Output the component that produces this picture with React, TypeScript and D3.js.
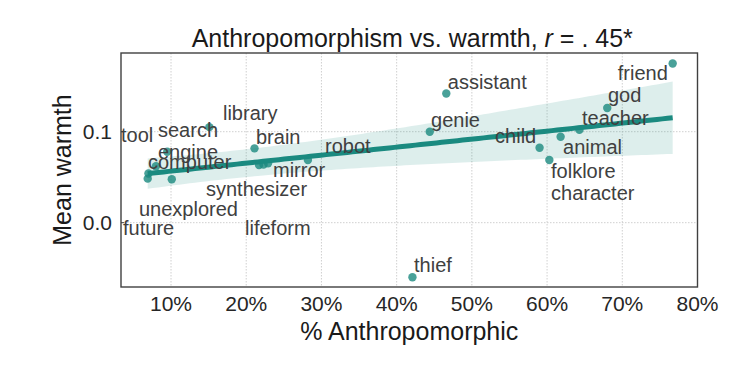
import * as d3 from "d3";

// concepts, % rated anthropomorphic, mean warmth
const terms = [
  "tool", "unexplored", "future", "search engine", "computer", "library",
  "brain", "synthesizer", "mirror", "lifeform", "robot", "thief", "genie",
  "assistant", "child", "folklore character", "animal", "teacher", "god", "friend",
];
const anthro = [
  6.9, 10.1, 7.0, 9.5, 8.0, 15.1, 21.1, 21.7, 22.9, 22.3, 28.2, 42.1, 44.4,
  46.6, 59.0, 60.3, 61.8, 64.3, 68.0, 76.7,
];
const warmth = [
  0.0484, 0.0477, 0.054, 0.078, 0.062, 0.105, 0.0817, 0.0634, 0.0653, 0.064,
  0.0689, -0.06, 0.1, 0.142, 0.0824, 0.0689, 0.0945, 0.102, 0.126, 0.175,
];
const xTicks = [10, 20, 30, 40, 50, 60, 70, 80];
const yTicks = [0.0, 0.1];

// where the (adjusted) text labels ended up, in data units
const labelPos: Record<string, [number, number]> = {
  tool: [3.35, 0.0964],
  unexplored: [5.74, 0.0151],
  future: [3.62, -0.0058],
  "search engine": [8.27, 0.1019],
  computer: [6.94, 0.0667],
  library: [16.91, 0.1205],
  brain: [21.3, 0.0942],
  synthesizer: [14.65, 0.037],
  mirror: [23.56, 0.0579],
  lifeform: [19.84, -0.0058],
  robot: [30.48, 0.0843],
  thief: [42.31, -0.0464],
  genie: [44.57, 0.1129],
  assistant: [46.8, 0.1546],
  child: [53.09, 0.0953],
  "folklore character": [60.53, 0.0568],
  animal: [62.13, 0.0832],
  teacher: [64.65, 0.1151],
  god: [68.1, 0.1403],
  friend: [69.4, 0.1645],
};

const W = 747;
const H = 374;
const left = 121;
const right = 697.5;
const top = 53;
const bottom = 287;
const teal = "#1b8a80";
const font = "'Liberation Sans', Arial, sans-serif";

function fit() {
  const n = anthro.length;
  const mx = d3.mean(anthro)!;
  const my = d3.mean(warmth)!;
  let sxx = 0;
  let sxy = 0;
  anthro.forEach((x, i) => {
    sxx += (x - mx) ** 2;
    sxy += (x - mx) * (warmth[i] - my);
  });
  const b = sxy / sxx;
  const a = my - b * mx;
  // robust (sandwich) covariance, close to what a pairs bootstrap gives
  let s00 = 0, s01 = 0, s11 = 0;
  anthro.forEach((x, i) => {
    const e2 = (warmth[i] - a - b * x) ** 2;
    const d = x - mx;
    s00 += e2;
    s01 += e2 * d;
    s11 += e2 * d * d;
  });
  const k = n / (n - 2);
  const varA = (k * s00) / (n * n);
  const covAB = (k * s01) / (n * sxx);
  const varB = (k * s11) / (sxx * sxx);
  const [x0, x1] = d3.extent(anthro) as [number, number];
  const xs = d3.range(0, 101).map((i) => x0 + (i / 100) * (x1 - x0));
  return xs.map((x) => {
    const d = x - mx;
    const se = Math.sqrt(varA + 2 * d * covAB + d * d * varB);
    const yhat = a + b * x;
    return { x, y: yhat, lo: yhat - 1.96 * se, hi: yhat + 1.96 * se };
  });
}

export default function App() {
  const x = d3.scaleLinear().domain([3.35, 80]).range([left, right]);
  const y = d3.scaleLinear().domain([-0.0707, 0.1865]).range([bottom, top]);
  const pts = fit();
  const line = d3.line<any>().x((d) => x(d.x)).y((d) => y(d.y));
  const band = d3.area<any>().x((d) => x(d.x)).y0((d) => y(d.lo)).y1((d) => y(d.hi));

  return (
    <svg width={W} height={H} style={{ position: "absolute", left: 0, top: 0, background: "#fff" }} fontFamily={font}>
      {xTicks.map((t) => (
        <g key={"x" + t}>
          <line x1={x(t)} x2={x(t)} y1={top} y2={bottom} stroke="#c4c4c4" strokeWidth={0.8} strokeDasharray="1.5,1.5" />
          <text x={x(t)} y={311} textAnchor="middle" fontSize={21} fill="#262626">{t}%</text>
        </g>
      ))}
      {yTicks.map((t) => (
        <g key={"y" + t}>
          <line x1={left} x2={right} y1={y(t)} y2={y(t)} stroke="#c4c4c4" strokeWidth={0.8} strokeDasharray="1.5,1.5" />
          <line x1={left} x2={left + 3} y1={y(t)} y2={y(t)} stroke="#404040" strokeWidth={1} />
          <text x={112} y={y(t) + 7.5} textAnchor="end" fontSize={21} fill="#262626">{t.toFixed(1)}</text>
        </g>
      ))}

      {anthro.map((v, i) => (
        <circle key={terms[i]} cx={x(v)} cy={y(warmth[i])} r={4.2} fill={teal} fillOpacity={0.8} />
      ))}
      <path d={line(pts)!} fill="none" stroke={teal} strokeWidth={5} />
      <path d={band(pts)!} fill={teal} fillOpacity={0.15} />

      {terms.map((t) => {
        const [lx, ly] = labelPos[t];
        const words = t.split(" ");
        return (
          <text key={"l" + t} x={x(lx)} y={y(ly) + 7} fontSize={20} fill="#404040">
            {words.map((w, j) => (
              <tspan key={w} x={x(lx)} dy={j === 0 ? 0 : 22}>{w}</tspan>
            ))}
          </text>
        );
      })}

      <rect x={left} y={top} width={right - left} height={bottom - top} fill="none" stroke="#404040" strokeWidth={1.4} />

      <text x={(left + right) / 2 + 3} y={47} textAnchor="middle" fontSize={25} fill="#1a1a1a">
        Anthropomorphism vs. warmth, <tspan fontStyle="italic">r</tspan> = . 45*
      </text>
      <text x={(left + right) / 2} y={340} textAnchor="middle" fontSize={25} fill="#1a1a1a">% Anthropomorphic</text>
      <text transform={`translate(71,${(top + bottom) / 2}) rotate(-90)`} textAnchor="middle" fontSize={25} fill="#1a1a1a">Mean warmth</text>
    </svg>
  );
}
